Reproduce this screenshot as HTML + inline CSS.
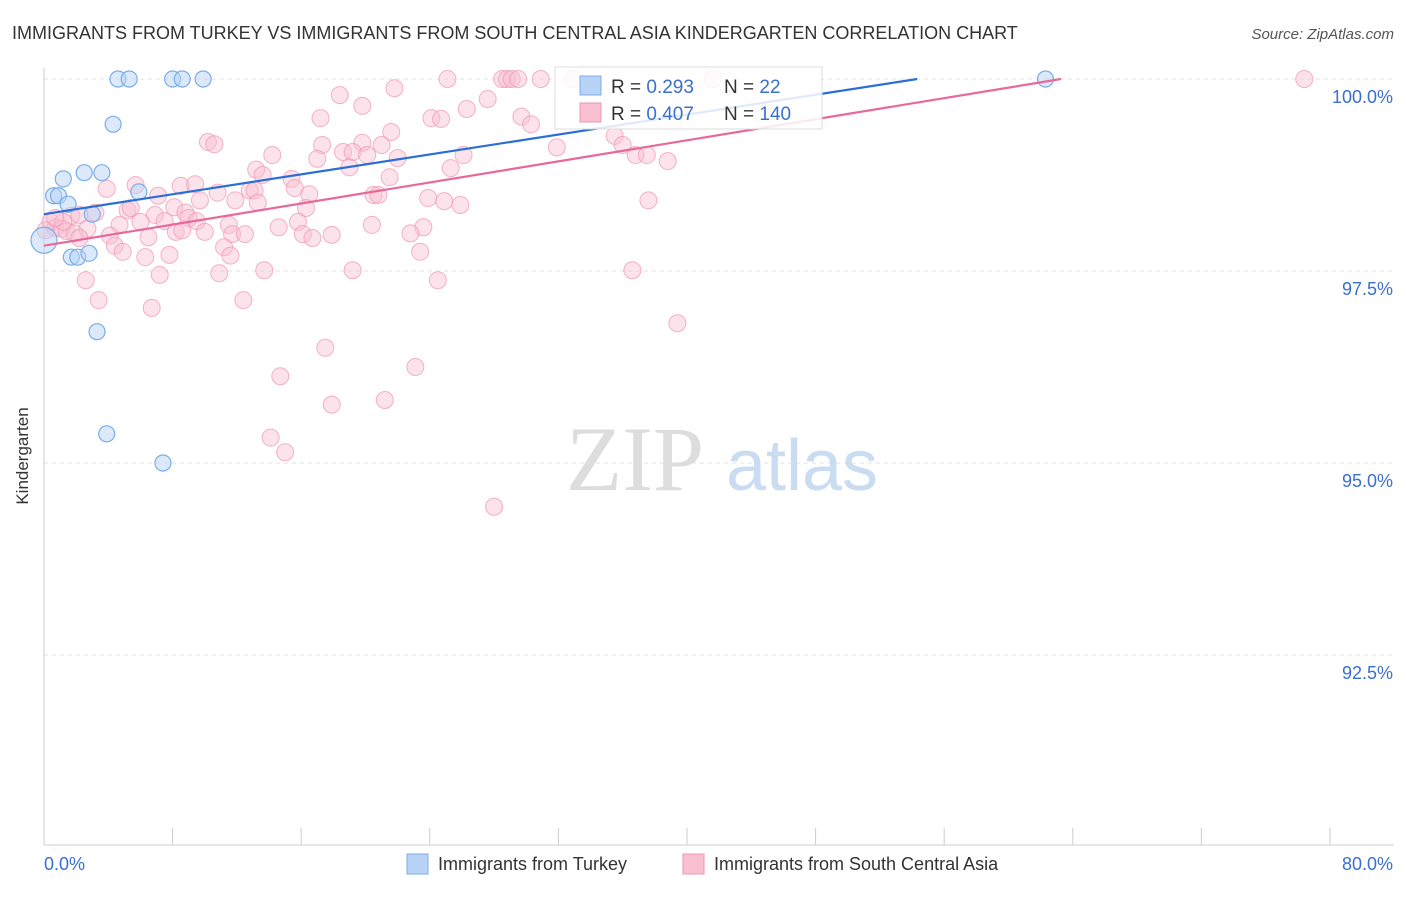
<!DOCTYPE html>
<html><head><meta charset="utf-8"><style>
body{margin:0;background:#fff;font-family:"Liberation Sans",sans-serif}
svg text{font-family:"Liberation Sans",sans-serif}
</style></head><body>
<svg id="chart" width="1406" height="892" viewBox="0 0 1406 892">
<text x="12" y="39" font-size="18" fill="#333">IMMIGRANTS FROM TURKEY VS IMMIGRANTS FROM SOUTH CENTRAL ASIA KINDERGARTEN CORRELATION CHART</text>
<text x="1394" y="39" font-size="15" fill="#555" text-anchor="end" font-style="italic">Source: ZipAtlas.com</text>
<text x="28" y="456" font-size="17" fill="#333" text-anchor="middle" transform="rotate(-90 28 456)">Kindergarten</text>
<g id="grid"></g>
<g>
<text x="635" y="490" font-size="92" fill="#ddd" text-anchor="middle" font-family="Liberation Serif" style="font-family:'Liberation Serif',serif">ZIP</text>
<text x="802" y="490" font-size="72" fill="#c9dcf2" text-anchor="middle">atlas</text>
</g>
<g id="axes"></g>
<g id="pinkPts"></g>
<g id="bluePts"></g>
<g id="lines"></g>
<g>
<rect x="555" y="67" width="267" height="62" fill="#fff" fill-opacity="0.85" stroke="#ddd"/>
<rect x="580" y="76" width="21" height="19" fill="#b8d3f5" stroke="#7aaee8"/>
<rect x="580" y="103" width="21" height="19" fill="#f8bfd0" stroke="#f094b4"/>
<text x="611" y="93" font-size="19" fill="#333">R = <tspan fill="#3a6fd0"> 0.293</tspan></text>
<text x="724" y="93" font-size="19" fill="#333">N = <tspan fill="#3a6fd0">  22</tspan></text>
<text x="611" y="120" font-size="19" fill="#333">R = <tspan fill="#3a6fd0">0.407</tspan></text>
<text x="724" y="120" font-size="19" fill="#333">N = <tspan fill="#3a6fd0">140</tspan></text>
</g>
<g>
<rect x="407" y="854" width="21" height="20" fill="#b8d3f5" stroke="#7aaee8"/>
<text x="438" y="870" font-size="18" fill="#333">Immigrants from Turkey</text>
<rect x="683" y="854" width="21" height="20" fill="#f8bfd0" stroke="#f094b4"/>
<text x="714" y="870" font-size="18" fill="#333">Immigrants from South Central Asia</text>
</g>
</svg>
<script>
const xTickLabels=["0.0%","80.0%"];
const yTicks=[100,97.5,95,92.5];
const yTickLabels=["100.0%","97.5%","95.0%","92.5%"];
const blueX=[4.6,5.3,8.0,8.6,9.9,62.3,4.3,1.2,2.5,3.6,5.9,0.6,0.9,1.5,3.0,0.0,1.7,2.1,2.8,3.3,3.9,7.4];
const blueY=[100,100,100,100,100,100,99.41,98.70,98.78,98.78,98.53,98.48,98.48,98.37,98.24,97.90,97.68,97.68,97.73,96.71,95.38,95.00];
const pinkX=[25.1,28.5,28.8,29.1,29.5,30.9,32.9,41.6,78.4,18.4,21.8,27.6,19.8,26.3,17.2,24.1,24.7,29.7,30.3,21.6,19.8,10.2,10.6,17.3,31.9,35.5,36.0,18.6,19.2,21.0,14.2,17.0,20.1,22.0,26.1,36.8,37.5,38.8,13.2,19.0,25.3,15.4,13.6,21.5,8.5,9.4,3.9,5.7,12.8,13.1,15.6,10.8,16.5,20.5,20.8,23.9,24.9,25.9,37.6,7.1,8.1,9.7,11.9,13.3,16.3,1.7,2.2,3.2,5.2,5.4,6.9,8.8,9.0,7.5,4.7,6.0,9.5,11.5,14.6,15.8,20.4,23.6,22.8,0.4,0.7,1.1,1.4,1.9,2.7,4.1,6.5,8.2,8.6,10.0,11.7,12.5,16.1,16.7,17.9,2.2,4.4,4.9,6.3,7.8,11.2,11.6,23.4,13.7,10.9,7.2,2.6,19.2,24.5,36.6,3.4,12.4,6.7,39.4,17.5,23.1,14.7,21.2,17.9,14.1,15.0,28.0,0.1,1.2,0.7];
const pinkY=[100,100,100,100,100,100,100,100,100,99.79,99.88,99.74,99.65,99.61,99.49,99.49,99.48,99.51,99.41,99.31,99.17,99.18,99.15,99.14,99.11,99.26,99.14,99.05,99.05,99.14,99.01,98.96,99.01,98.97,99.01,99.01,99.01,98.93,98.82,98.85,98.84,98.70,98.75,98.72,98.61,98.63,98.57,98.62,98.55,98.55,98.58,98.52,98.50,98.49,98.49,98.45,98.41,98.36,98.42,98.48,98.33,98.42,98.42,98.39,98.32,98.22,98.23,98.26,98.29,98.32,98.23,98.26,98.19,98.15,98.10,98.14,98.15,98.10,98.07,98.14,98.10,98.07,97.99,98.14,98.06,98.05,98.02,97.99,98.05,97.96,97.94,98.01,98.03,98.01,97.98,97.98,97.98,97.93,97.97,97.93,97.83,97.75,97.68,97.71,97.81,97.70,97.75,97.51,97.47,97.45,97.38,97.51,97.38,97.51,97.12,97.12,97.02,96.82,96.50,96.25,96.13,95.82,95.76,95.33,95.14,94.43,98.03,98.14,98.19];
const blueTrend=[98.24,0.0324];
const pinkTrend=[97.83,0.0343];
const NS="http://www.w3.org/2000/svg";
const X0=44,X1=1330,Y100=79,PXPER=192/2.5;
function sx(v){return X0+(X1-X0)*v/80;}
function sy(v){return Y100+(100-v)*PXPER;}
function mk(tag,attrs,parent){const e=document.createElementNS(NS,tag);for(const k in attrs)e.setAttribute(k,attrs[k]);parent.appendChild(e);return e;}
const grid=document.getElementById('grid'),axes=document.getElementById('axes');
yTicks.forEach((t,i)=>{
 const l=mk('line',{x1:X0,x2:1394,y1:sy(t),y2:sy(t),stroke:'#e2e2e2','stroke-dasharray':'4,4'},grid);
 
 
 const tx=mk('text',{x:1393,y:sy(t)+24,'font-size':18,fill:'#3a6fd0','text-anchor':'end'},axes);
 tx.textContent=yTickLabels[i];
 
 
});
const ax=mk('line',{x1:X0,x2:X0,y1:68,y2:845,stroke:'#ccc'},axes);


const bx=mk('line',{x1:X0,x2:1394,y1:845,y2:845,stroke:'#ccc'},axes);


for(let i=0;i<=10;i++){
 const t=mk('line',{x1:sx(i*8),x2:sx(i*8),y1:828,y2:845,stroke:'#ccc'},axes);
 
 
}
const xl0=mk('text',{x:44,y:870,'font-size':18,fill:'#3a6fd0'},axes);xl0.textContent=xTickLabels[0];


const xl1=mk('text',{x:1393,y:870,'font-size':18,fill:'#3a6fd0','text-anchor':'end'},axes);xl1.textContent=xTickLabels[1];


const pg=document.getElementById('pinkPts');
pinkX.forEach((v,i)=>{
 const c=mk('circle',{cx:sx(v),cy:sy(pinkY[i]),r:8.5,fill:'#f8bfd0','fill-opacity':0.45,stroke:'#f094b4','stroke-opacity':0.7,'stroke-width':1},pg);
 
 
});
const bg=document.getElementById('bluePts');
blueX.forEach((v,i)=>{
 const c=mk('circle',{cx:sx(v),cy:sy(blueY[i]),r:(i==15?13:8),fill:'#b8d3f5','fill-opacity':0.5,stroke:'#7aaee8','stroke-width':1.2},bg);
 
 
});
const lg=document.getElementById('lines');
function trend(p,col,name){
 const xe=(100-p[0])/p[1];
 const l=mk('line',{x1:sx(0),y1:sy(p[0]),x2:sx(xe),y2:sy(100),stroke:col,'stroke-width':2.2},lg);
 
 
}
trend(blueTrend,'#2a6fd6','turkey-trend-line');
trend(pinkTrend,'#e8689a','sca-trend-line');
</script>
</body></html>
